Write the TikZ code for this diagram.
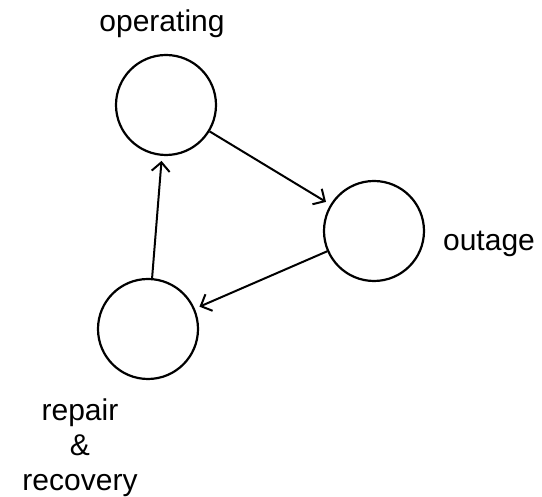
\documentclass[tikz,border=0pt]{standalone}
\usepackage{fontspec}
\setmainfont{Liberation Sans}
\usetikzlibrary{arrows.meta}
\begin{document}
\begin{tikzpicture}[%
      x=1pt,y=1pt,
      circ/.style={circle,draw,line width=2.2pt,minimum size=100pt,inner sep=0pt},
      lbl/.style={font=\fontsize{30}{35}\selectfont,align=center,inner sep=0pt},
      arr/.style={line width=2pt,-{Straight Barb[length=9pt,width=18pt]},shorten >=5pt}
      ]
      \useasboundingbox (0,0) rectangle (542,497);
      \draw (166,392) node[circ] (O) {};
      \draw (374,266) node[circ] (U) {};
      \draw (148,168) node[circ] (R) {};
      \draw (162,465) node[lbl,anchor=base] (Olbl) {operating};
      \draw (489,246) node[lbl,anchor=base] (Ulbl) {outage};
      \draw (80,49) node[lbl] (Rlbl) {repair\\\&\\recovery};
      \draw[arr] (O) -- (U);
      \draw[arr] (U) -- (R);
      \draw[arr] (R) -- (O);
    \end{tikzpicture}
\end{document}
